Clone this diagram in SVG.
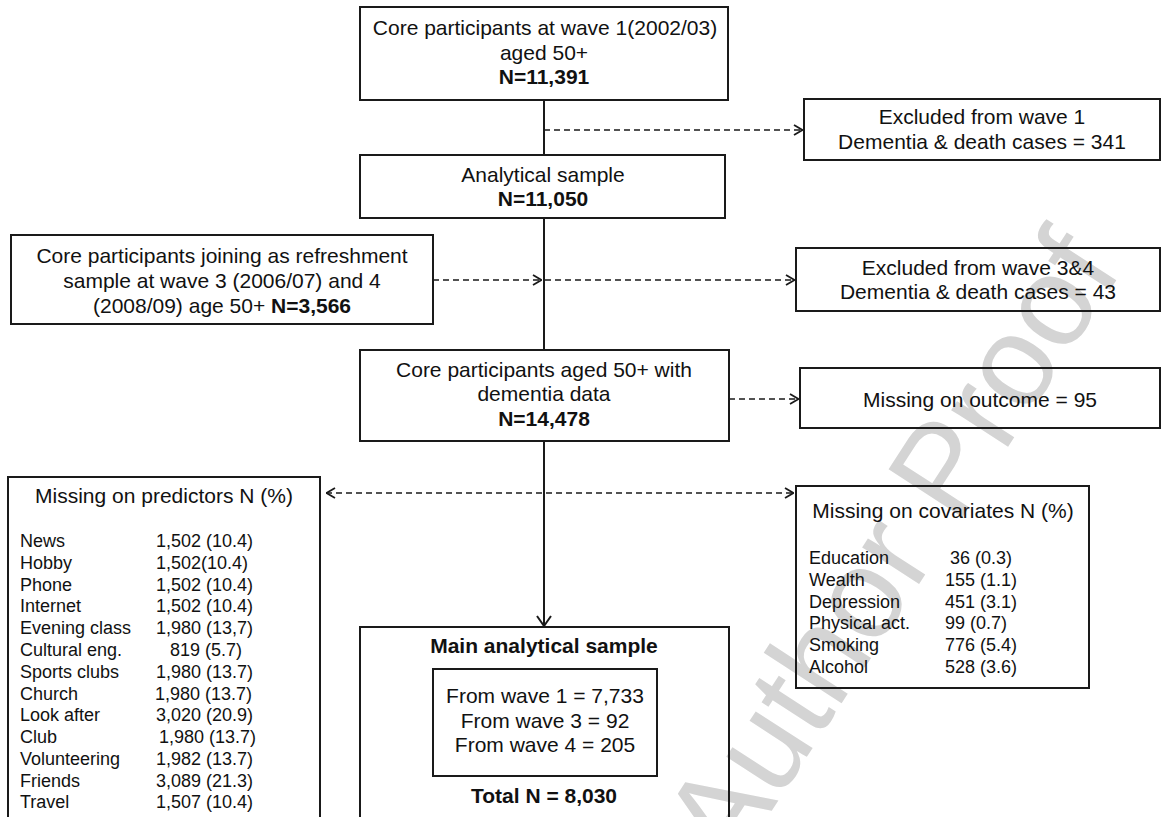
<svg xmlns="http://www.w3.org/2000/svg" width="1162" height="817" viewBox="0 0 1162 817">
<defs>
<style>
.box{fill:none;stroke:#1a1a1a;stroke-width:2}
.t{font-family:"Liberation Sans",Arial,sans-serif;font-size:21px;fill:#111;text-anchor:middle}
.b{font-weight:bold}
.r{font-family:"Liberation Sans",Arial,sans-serif;font-size:18px;fill:#111}
.solid{fill:none;stroke:#1a1a1a;stroke-width:2}
.dash{fill:none;stroke:#1a1a1a;stroke-width:1.6;stroke-dasharray:6 4}
.wm{font-family:"Liberation Sans",Arial,sans-serif;font-size:128px;fill:#d4d4d4}
</style>
<marker id="ah" viewBox="0 0 10 12" refX="10" refY="6" markerWidth="10" markerHeight="12" orient="auto-start-reverse" markerUnits="userSpaceOnUse">
<path d="M1,1 L9.5,6 L1,11" fill="none" stroke="#1a1a1a" stroke-width="1.8"/>
</marker>
<marker id="ahm" viewBox="0 0 16 12" refX="8" refY="11" markerWidth="16" markerHeight="12" orient="0" markerUnits="userSpaceOnUse">
<path d="M1,1 L8,11 L15,1" fill="none" stroke="#1a1a1a" stroke-width="2"/>
</marker>
</defs>
<rect width="1162" height="817" fill="#fff"/>
<text class="wm" transform="translate(732,872) rotate(-57)">Author Proof</text>

<g id="connectors">
<path class="solid" d="M544,100 V155 M544,218 V350"/>
<path class="solid" d="M544,441 V626" marker-end="url(#ahm)"/>
<path class="dash" d="M544,130 H803" marker-end="url(#ah)"/>
<path class="dash" d="M433,280 H542" marker-end="url(#ah)"/>
<path class="dash" d="M545,280 H795" marker-end="url(#ah)"/>
<path class="dash" d="M729,399 H799" marker-end="url(#ah)"/>
<path class="dash" d="M326,493 H794" marker-start="url(#ah)" marker-end="url(#ah)"/>
</g>

<g id="n-wave1">
<rect class="box" x="360" y="7" width="368" height="93"/>
<text class="t" x="545" y="35">Core participants at wave 1(2002/03)</text>
<text class="t" x="544" y="60">aged 50+</text>
<text class="t b" x="544" y="84">N=11,391</text>
</g>

<g id="n-excl1">
<rect class="box" x="804" y="99" width="356" height="61"/>
<text class="t" x="982" y="124">Excluded from wave 1</text>
<text class="t" x="982" y="149">Dementia &amp; death cases = 341</text>
</g>

<g id="n-analytical">
<rect class="box" x="360" y="155" width="365" height="63"/>
<text class="t" x="543" y="182">Analytical sample</text>
<text class="t b" x="543" y="206">N=11,050</text>
</g>

<g id="n-refresh">
<rect class="box" x="11" y="235" width="422" height="89"/>
<text class="t" x="222" y="263">Core participants joining as refreshment</text>
<text class="t" x="222" y="288">sample at wave 3 (2006/07) and 4</text>
<text class="t" x="222" y="313">(2008/09) age 50+ <tspan class="b">N=3,566</tspan></text>
</g>

<g id="n-excl34">
<rect class="box" x="796" y="248" width="364" height="63"/>
<text class="t" x="978" y="275">Excluded from wave 3&amp;4</text>
<text class="t" x="978" y="299">Dementia &amp; death cases = 43</text>
</g>

<g id="n-dementia">
<rect class="box" x="360" y="350" width="369" height="91"/>
<text class="t" x="544" y="377">Core participants aged 50+ with</text>
<text class="t" x="544" y="401">dementia data</text>
<text class="t b" x="544" y="426">N=14,478</text>
</g>

<g id="n-outcome">
<rect class="box" x="800" y="368" width="360" height="60"/>
<text class="t" x="980" y="407">Missing on outcome = 95</text>
</g>

<g id="n-predictors">
<rect class="box" x="8" y="477" width="312" height="350"/>
<text class="t" x="164" y="503">Missing on predictors N (%)</text>
<text class="r" x="20" y="547">News</text><text class="r" x="156" y="547">1,502 (10.4)</text>
<text class="r" x="20" y="569">Hobby</text><text class="r" x="156" y="569">1,502(10.4)</text>
<text class="r" x="20" y="591">Phone</text><text class="r" x="156" y="591">1,502 (10.4)</text>
<text class="r" x="20" y="612">Internet</text><text class="r" x="156" y="612">1,502 (10.4)</text>
<text class="r" x="20" y="634">Evening class</text><text class="r" x="156" y="634">1,980 (13,7)</text>
<text class="r" x="20" y="656">Cultural eng.</text><text class="r" x="170" y="656">819 (5.7)</text>
<text class="r" x="20" y="678">Sports clubs</text><text class="r" x="156" y="678">1,980 (13.7)</text>
<text class="r" x="20" y="700">Church</text><text class="r" x="155" y="700">1,980 (13.7)</text>
<text class="r" x="20" y="721">Look after</text><text class="r" x="156" y="721">3,020 (20.9)</text>
<text class="r" x="20" y="743">Club</text><text class="r" x="159" y="743">1,980 (13.7)</text>
<text class="r" x="20" y="765">Volunteering</text><text class="r" x="156" y="765">1,982 (13.7)</text>
<text class="r" x="20" y="787">Friends</text><text class="r" x="156" y="787">3,089 (21.3)</text>
<text class="r" x="20" y="808">Travel</text><text class="r" x="156" y="808">1,507 (10.4)</text>
</g>

<g id="n-covariates">
<rect class="box" x="796" y="486" width="293" height="202"/>
<text class="t" x="943" y="518">Missing on covariates N (%)</text>
<text class="r" x="809" y="564">Education</text><text class="r" x="950" y="564">36 (0.3)</text>
<text class="r" x="809" y="586">Wealth</text><text class="r" x="945" y="586">155 (1.1)</text>
<text class="r" x="809" y="608">Depression</text><text class="r" x="945" y="608">451 (3.1)</text>
<text class="r" x="809" y="629">Physical act.</text><text class="r" x="945" y="629">99 (0.7)</text>
<text class="r" x="809" y="651">Smoking</text><text class="r" x="945" y="651">776 (5.4)</text>
<text class="r" x="809" y="673">Alcohol</text><text class="r" x="945" y="673">528 (3.6)</text>
</g>

<g id="n-main">
<rect class="box" x="360" y="627" width="369" height="200"/>
<text class="t b" x="544" y="653">Main analytical sample</text>
<rect class="box" x="433" y="669" width="224" height="107"/>
<text class="t" x="545" y="703">From wave 1 = 7,733</text>
<text class="t" x="545" y="728">From wave 3 = 92</text>
<text class="t" x="545" y="752">From wave 4 = 205</text>
<text class="t b" x="544" y="803">Total N = 8,030</text>
</g>
</svg>
